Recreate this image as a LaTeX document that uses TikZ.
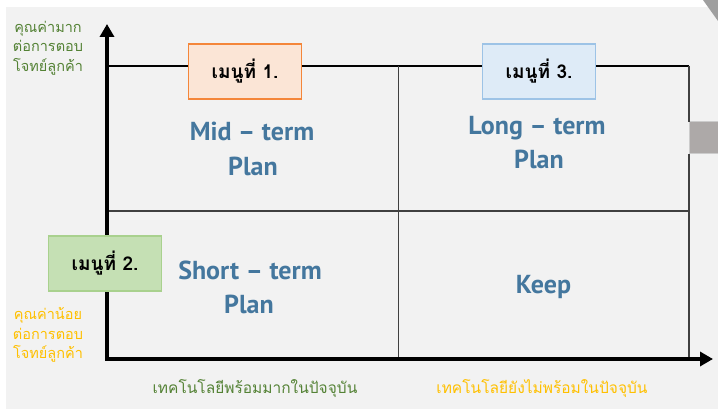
\documentclass[tikz,border=0pt]{standalone}
\usepackage{fontspec}
\setmainfont{PT Sans}
\newfontfamily\thaifont[Script=Thai]{Loma}
\usetikzlibrary{arrows.meta}
\definecolor{bgc}{HTML}{F2F2F2}
\definecolor{plantext}{HTML}{44779E}
\definecolor{goodgreen}{HTML}{548235}
\definecolor{lowyellow}{HTML}{FFC000}
\definecolor{orangefill}{HTML}{FBE5D6}
\definecolor{orangeedge}{HTML}{F4863A}
\definecolor{bluefill}{HTML}{DEEBF7}
\definecolor{blueedge}{HTML}{9DC3E6}
\definecolor{greenfill}{HTML}{C5E0B4}
\definecolor{greenedge}{HTML}{A9D18E}
\definecolor{tabgray}{HTML}{ADA9A8}
\definecolor{gridc}{HTML}{404040}
\tikzset{
  menubox/.style={draw, line width=1.6pt, minimum width=113pt, minimum height=55pt,
    inner sep=0pt, font=\thaifont\bfseries\fontsize{19}{21}\selectfont, text=black},
  plan/.style={anchor=base, text=plantext, font=\bfseries\fontsize{26}{30}\selectfont, inner sep=0pt},
  sidelabel/.style={align=center, inner sep=0pt, font=\thaifont\fontsize{14.5}{19.5}\selectfont},
  bottomlabel/.style={inner sep=0pt, font=\thaifont\fontsize{15.5}{17}\selectfont},
  gridline/.style={draw=gridc, line width=1pt},
  axis/.style={line width=3.6pt, -{Triangle[length=13pt,width=14pt]}}
}
\begin{document}
\begin{tikzpicture}[x=1pt,y=-1pt]
\useasboundingbox (0,0) rectangle (718,409);
\fill[white] (0,0) rectangle (718,409);
\fill[bgc] (6,7) rectangle (718,409);
\fill[gray!75] (703,0) -- (718,0) -- (718,21) -- cycle;
\filldraw[fill=tabgray, draw=gray!40, line width=1pt] (689.5,122) rectangle (718,154);

% grid
\coordinate (tl) at (107,66);
\coordinate (tr) at (689,66);
\coordinate (br) at (689,122);
\coordinate (br2) at (689,154);
\coordinate (br3) at (689,357);
\coordinate (ml) at (107,211);
\coordinate (mr) at (689,211);
\coordinate (mt) at (398,66);
\coordinate (mb) at (398,357);
\draw[line width=1.3pt, black] (tl) -- (tr);
\draw[gridline, line width=1.6pt] (tr) -- (br);
\draw[gridline, line width=1.6pt] (br2) -- (br3);
\draw[gridline] (ml) -- (mr);
\draw[gridline] (mt) -- (mb);

% axes
\coordinate (orig) at (107,359);
\coordinate (ytip) at (107,24);
\coordinate (xtip) at (713,359);
\coordinate (xstart) at (105.2,359);
\draw[axis] (orig) -- (ytip);
\draw[axis] (xstart) -- (xtip);

% menu boxes
\node[menubox, fill=orangefill, draw=orangeedge] (m1) at (245,71.5) {เมนูที่ 1.};
\node[menubox, fill=bluefill, draw=blueedge] (m3) at (539,71.5) {เมนูที่ 3.};
\node[menubox, fill=greenfill, draw=greenedge] (m2) at (105,263.5) {เมนูที่ 2.};

% quadrant texts
\node[plan] (mid1) at (252,141) {Mid – term};
\node[plan] (mid2) at (253,176) {Plan};
\node[plan] (long1) at (537,135) {Long – term};
\node[plan] (long2) at (539,169) {Plan};
\node[plan] (short1) at (250,279) {Short – term};
\node[plan] (short2) at (249,313) {Plan};
\node[plan] (keep) at (543.5,293) {Keep};

% side labels
\node[sidelabel, text=goodgreen] (hival) at (48,48) {คุณค่ามาก\\ต่อการตอบ\\โจทย์ลูกค้า};
\node[sidelabel, text=lowyellow] (loval) at (48,335) {คุณค่าน้อย\\ต่อการตอบ\\โจทย์ลูกค้า};

% bottom labels
\node[bottomlabel, text=goodgreen] (tready) at (255,389) {เทคโนโลยีพร้อมมากในปัจจุบัน};
\node[bottomlabel, text=lowyellow] (tnot) at (542,389) {เทคโนโลยียังไม่พร้อมในปัจจุบัน};
\end{tikzpicture}
\end{document}
